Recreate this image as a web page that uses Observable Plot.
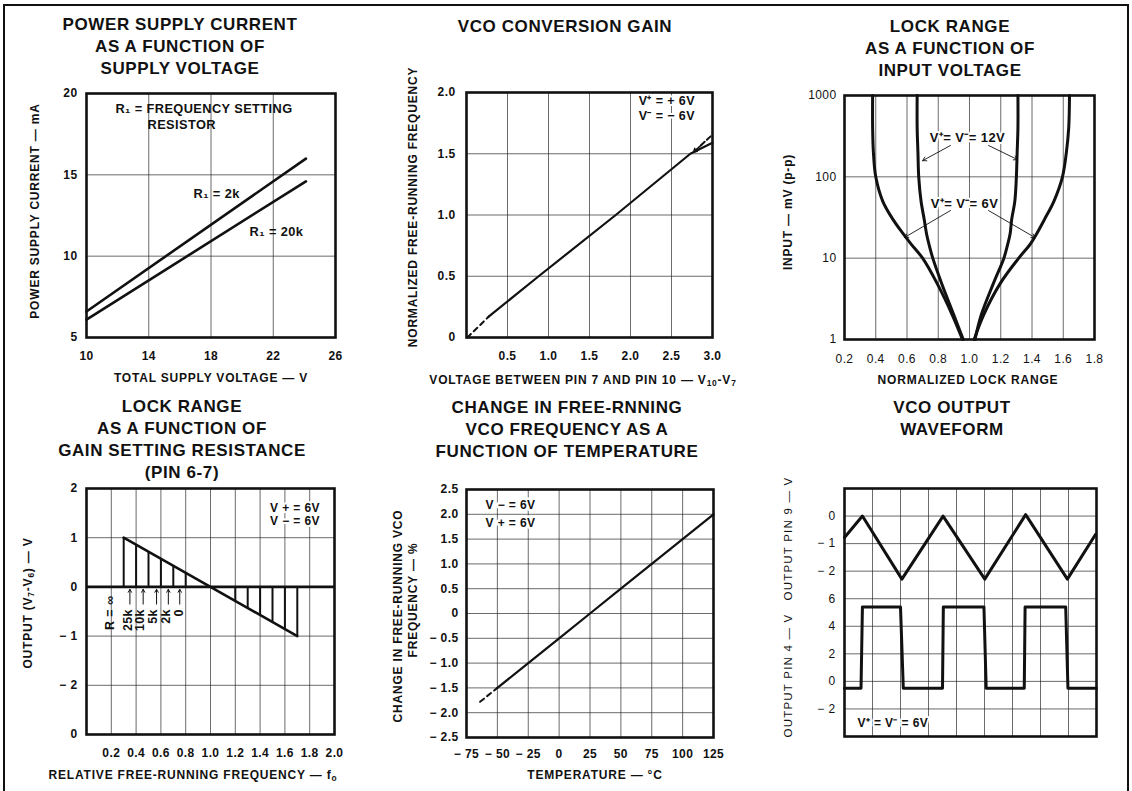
<!DOCTYPE html>
<html><head><meta charset="utf-8">
<script src="https://cdn.jsdelivr.net/npm/d3@7"></script>
<script src="https://cdn.jsdelivr.net/npm/@observablehq/plot@0.6"></script>
<style>
body{margin:0;background:#fff;}
#page{position:relative;width:1132px;height:791px;overflow:hidden;background:#fff;font-family:"Liberation Sans",Arial,sans-serif;color:#111;}
.border{position:absolute;left:3px;top:4px;width:1122px;height:800px;border:2px solid #111;border-bottom:none;}
.title{position:absolute;font-weight:bold;font-size:17px;letter-spacing:0.6px;line-height:22px;text-align:center;transform:translateX(-50%);white-space:nowrap;}
.xl,.yl{position:absolute;font-weight:bold;font-size:12px;letter-spacing:0.8px;white-space:nowrap;}
.xl{transform:translate(-50%,-50%);}
.yl{transform:translate(-50%,-50%) rotate(-90deg);}
.yl.light{font-weight:normal;font-size:11.5px;letter-spacing:1.2px;}
sub{font-size:70%;vertical-align:-2px;line-height:0;}
</style></head>
<body><div id="page"><div class="border"></div></div>
<script>
// ---------- DATA ----------
// Panel 1: power supply current vs supply voltage
const p1Voltage = [10, 24.1];
const p1Current2k = [6.6, 16.0];
const p1Current20k = [6.1, 14.6];
const p1XTicks = [10, 14, 18, 22, 26];
const p1YTicks = [5, 10, 15, 20];

// Panel 2: VCO conversion gain
const p2DashV = [0.01, 0.27];
const p2DashF = [0.0, 0.17];
const p2Volt = [0.27, 0.88, 1.82, 2.73, 3.0];
const p2Freq = [0.17, 0.5, 1.0, 1.5, 1.59];
const p2XTicks = [0.5, 1.0, 1.5, 2.0, 2.5, 3.0];
const p2YTicks = [0, 0.5, 1.0, 1.5, 2.0];

// Panel 3: lock range vs input voltage (input mV p-p ascending)
const p3Input = [1, 2, 5, 10, 15, 20, 30, 50, 100, 200, 400, 1000];
const p3SixLeft = [0.955, 0.89, 0.79, 0.70, 0.625, 0.575, 0.51, 0.445, 0.40, 0.385, 0.38, 0.38];
const p3SixRight = [1.03, 1.09, 1.20, 1.315, 1.39, 1.43, 1.48, 1.54, 1.595, 1.62, 1.635, 1.64];
const p3TwelveLeft = [0.96, 0.90, 0.82, 0.765, 0.74, 0.725, 0.71, 0.69, 0.675, 0.67, 0.665, 0.665];
const p3TwelveRight = [1.035, 1.075, 1.155, 1.22, 1.245, 1.26, 1.27, 1.29, 1.30, 1.305, 1.31, 1.31];
const p3XTicks = [0.2, 0.4, 0.6, 0.8, 1.0, 1.2, 1.4, 1.6, 1.8];
const p3YTicks = [1, 10, 100, 1000];

// Panel 4: lock range vs gain setting resistance
const p4LineF = [0.3, 1.7];
const p4LineV = [1.0, -1.0];
const p4HatchF = [0.3, 0.4, 0.5, 0.6, 0.7, 0.8, 1.2, 1.3, 1.4, 1.5, 1.6, 1.7];
const p4HatchV = [1.0, 0.86, 0.71, 0.57, 0.43, 0.29, -0.29, -0.43, -0.57, -0.71, -0.86, -1.0];
const p4RLabels = ["R = ∞", "25k", "10k", "5k", "2k", "0"];
const p4XTicks = [0.2, 0.4, 0.6, 0.8, 1.0, 1.2, 1.4, 1.6, 1.8, 2.0];
const p4YTicks = [2, 1, 0, -1, -2, -3];
const p4YTickLabels = ["2", "1", "0", "− 1", "− 2", "0"];

// Panel 5: change in free-running VCO frequency vs temperature
const p5DashT = [-64, -50];
const p5DashP = [-1.78, -1.5];
const p5Temp = [-50, -25, 0, 25, 50, 75, 100, 125];
const p5Pct = [-1.5, -1.0, -0.5, 0, 0.5, 1.0, 1.5, 2.0];
const p5XTicks = [-75, -50, -25, 0, 25, 50, 75, 100, 125];
const p5YTicks = [2.5, 2.0, 1.5, 1.0, 0.5, 0, -0.5, -1.0, -1.5, -2.0, -2.5];

// Panel 6: VCO output waveform (time in divisions, volts)
const p6TriT = [0, 0.64, 2.05, 3.52, 5.01, 6.47, 7.96, 8.97];
const p6TriV = [-0.78, 0, -2.29, 0, -2.29, 0.05, -2.29, -0.66];
const p6SqT = [0, 0.59, 0.64, 2.0, 2.1, 3.5, 3.53, 4.98, 5.06, 6.42, 6.45, 7.9, 7.98, 9];
const p6SqV = [-0.5, -0.5, 5.4, 5.4, -0.5, -0.5, 5.4, 5.4, -0.5, -0.5, 5.4, 5.4, -0.5, -0.5];
const p6YTickLabels = ["− 2", "0", "2", "4", "6", "− 2", "− 1", "0"];

// ---------- HELPERS ----------
const page = document.getElementById("page");
const GRID = {stroke: "#222", strokeOpacity: 0.75, strokeWidth: 0.9};
const zip = (a, b) => a.map((v, i) => ({x: v, y: b[i]}));

function panel({frame: [L, T, R, B], x, y, marks, weight = "bold", ml = 62, mr = 14, mt = 14, mb = 34}) {
  const chart = Plot.plot({
    width: R - L + ml + mr, height: B - T + mt + mb,
    marginLeft: ml, marginRight: mr, marginTop: mt, marginBottom: mb,
    x, y,
    style: {fontFamily: "Liberation Sans, Arial, sans-serif", fontSize: "12px", fontWeight: weight,
            color: "#111", background: "transparent", overflow: "visible", letterSpacing: "0.4px"},
    marks: [...marks, Plot.frame({stroke: "#111", strokeWidth: 2.6})]
  });
  chart.style.position = "absolute";
  chart.style.left = (L - ml) + "px";
  chart.style.top = (T - mt) + "px";
  page.appendChild(chart);
}
function html(cls, left, top, inner) {
  const d = document.createElement("div");
  d.className = cls; d.style.left = left + "px"; d.style.top = top + "px"; d.innerHTML = inner;
  page.appendChild(d);
}
const ax = (ticks, fmt, pad = 14) => Plot.axisX(ticks, {tickSize: 0, tickPadding: pad, label: null, tickFormat: fmt});
const ay = (ticks, fmt, pad = 9) => Plot.axisY(ticks, {tickSize: 0, tickPadding: pad, label: null, tickFormat: fmt});
const f1 = d => d.toFixed(1);
const NOTE = {textAnchor: "start", fontWeight: "bold", stroke: "white", strokeWidth: 4, fill: "#111"};

// ---------- PANEL 1 ----------
panel({
  frame: [86, 93, 335, 337],
  x: {domain: [10, 26]}, y: {domain: [5, 20]},
  marks: [
    Plot.gridX([14, 18, 22], GRID), Plot.gridY([10, 15], GRID),
    ax(p1XTicks, d => String(d)), ay(p1YTicks, d => String(d)),
    Plot.line(zip(p1Voltage, p1Current2k), {x: "x", y: "y", strokeWidth: 2.6}),
    Plot.line(zip(p1Voltage, p1Current20k), {x: "x", y: "y", strokeWidth: 2.6}),
    Plot.text(["R₁ = FREQUENCY SETTING"], {x: 11.86, y: 19.08, text: d => d, textAnchor: "start", fontWeight: "bold", fontSize: 12.8}),
    Plot.text(["RESISTOR"], {x: 13.92, y: 18.1, text: d => d, textAnchor: "start", fontWeight: "bold", fontSize: 12.8}),
    Plot.text(["R₁ = 2k"], {x: 16.88, y: 13.85, text: d => d, textAnchor: "start", fontWeight: "bold", fontSize: 12.8}),
    Plot.text(["R₁ = 20k"], {x: 20.48, y: 11.52, text: d => d, textAnchor: "start", fontWeight: "bold", fontSize: 12.8})
  ]
});
html("title", 180, 14, "POWER SUPPLY CURRENT<br>AS A FUNCTION OF<br>SUPPLY VOLTAGE");
html("yl", 35, 211, "POWER SUPPLY CURRENT — mA");
html("xl", 211, 378, "TOTAL SUPPLY VOLTAGE — V");

// ---------- PANEL 2 ----------
panel({
  frame: [466, 92, 712, 337],
  x: {domain: [0, 3]}, y: {domain: [0, 2]},
  marks: [
    Plot.gridX([0.5, 1.0, 1.5, 2.0, 2.5], GRID), Plot.gridY([0.5, 1.0, 1.5], GRID),
    ax(p2XTicks, f1), ay(p2YTicks, d => d === 0 ? "0" : f1(d), 11),
    Plot.line(zip(p2DashV, p2DashF), {x: "x", y: "y", strokeWidth: 2, strokeDasharray: "5,4"}),
    Plot.line(zip(p2Volt, p2Freq), {x: "x", y: "y", strokeWidth: 2.2}),
    Plot.line([{x: 2.86, y: 1.57}, {x: 2.99, y: 1.65}], {x: "x", y: "y", strokeWidth: 2, strokeDasharray: "5,3"}),
    Plot.arrow([0], {x1: 2.87, y1: 1.575, x2: 2.77, y2: 1.515, strokeWidth: 1.6, headLength: 8}),
    Plot.text(["V⁺ = + 6V", "V⁻ = − 6V"], {x: 2.1, y: (d, i) => [1.93, 1.81][i], text: d => d, ...NOTE, fontSize: 12.5})
  ]
});
html("title", 565, 16, "VCO CONVERSION GAIN");
html("yl", 413, 207, "NORMALIZED FREE-RUNNING FREQUENCY");
html("xl", 583, 380, "VOLTAGE BETWEEN PIN 7 AND PIN 10 — V<sub>10</sub>-V<sub>7</sub>");

// ---------- PANEL 3 ----------
panel({
  frame: [844, 95, 1094, 339],
  x: {domain: [0.2, 1.8]}, y: {type: "log", domain: [1, 1000]},
  weight: "normal",
  marks: [
    Plot.gridX([0.4, 0.6, 0.8, 1.0, 1.2, 1.4, 1.6], GRID), Plot.gridY([10, 100], GRID),
    ax(p3XTicks, f1, 15), ay(p3YTicks, d => String(d), 8),
    ...[p3SixLeft, p3SixRight, p3TwelveLeft, p3TwelveRight].map(arr =>
      Plot.line(p3Input.map((v, i) => ({x: arr[i], y: v})), {x: "x", y: "y", strokeWidth: 3, curve: "catmull-rom"})),
    Plot.arrow([0], {x1: 0.878, y1: 243, x2: 0.70, y2: 158, strokeWidth: 0.9, headLength: 7}),
    Plot.arrow([0], {x1: 1.122, y1: 243, x2: 1.307, y2: 163, strokeWidth: 0.9, headLength: 7}),
    Plot.arrow([0], {x1: 0.878, y1: 38.5, x2: 0.585, y2: 18, strokeWidth: 0.9, headLength: 7}),
    Plot.arrow([0], {x1: 1.122, y1: 38.5, x2: 1.42, y2: 17.9, strokeWidth: 0.9, headLength: 7}),
    Plot.text(["V⁺= V⁻= 12V"], {x: 0.987, y: 300, text: d => d, ...NOTE, textAnchor: "middle", fontSize: 13}),
    Plot.text(["V⁺= V⁻= 6V"], {x: 0.968, y: 47, text: d => d, ...NOTE, textAnchor: "middle", fontSize: 13})
  ]
});
html("title", 950, 16, "LOCK RANGE<br>AS A FUNCTION OF<br>INPUT VOLTAGE");
html("yl", 788, 212, "INPUT — mV (p-p)");
html("xl", 968, 380, "NORMALIZED LOCK RANGE");

// ---------- PANEL 4 ----------
const p4LabelX = [0.186, 0.336, 0.435, 0.54, 0.645, 0.745];
const p4ArrowX = [0.35, 0.457, 0.565, 0.66, 0.752];
panel({
  frame: [86, 488, 334, 734],
  x: {domain: [0, 2]}, y: {domain: [-3, 2]},
  marks: [
    Plot.gridX([0.2, 0.4, 0.6, 0.8, 1.0, 1.2, 1.4, 1.6, 1.8], GRID), Plot.gridY([1, -1, -2], GRID),
    ax(p4XTicks, f1), ay(p4YTicks, d => p4YTickLabels[p4YTicks.indexOf(d)]),
    Plot.ruleY([0], {strokeWidth: 2.6}),
    Plot.ruleX(zip(p4HatchF, p4HatchV), {x: "x", y1: 0, y2: "y", strokeWidth: 2}),
    Plot.line(zip(p4LineF, p4LineV), {x: "x", y: "y", strokeWidth: 2.6}),
    Plot.arrow(p4ArrowX, {x1: d => d, x2: d => d, y1: -0.35, y2: -0.05, strokeWidth: 1, headLength: 5}),
    Plot.text(p4RLabels, {x: (d, i) => p4LabelX[i], y: (d, i) => i === 0 ? -0.18 : -0.45, text: d => d, rotate: -90, textAnchor: "end", fontWeight: "bold", fontSize: 12.5}),
    Plot.text(["V + = 6V", "V − = 6V"], {x: 1.48, y: (d, i) => [1.61, 1.33][i], text: d => d, ...NOTE})
  ]
});
html("title", 182, 396, "LOCK RANGE<br>AS A FUNCTION OF<br>GAIN SETTING RESISTANCE<br>(PIN 6-7)");
html("yl", 28, 603, "OUTPUT (V<sub>7</sub>-V<sub>6</sub>) — V");
html("xl", 193, 775, "RELATIVE FREE-RUNNING FREQUENCY — f<sub>o</sub>");

// ---------- PANEL 5 ----------
const neg = (d, s) => d === 0 ? "0" : (d < 0 ? "− " : "") + s(Math.abs(d));
panel({
  frame: [466, 489, 713, 737],
  x: {domain: [-75, 125]}, y: {domain: [-2.5, 2.5]},
  marks: [
    Plot.gridX([-50, -25, 0, 25, 50, 75, 100], GRID), Plot.gridY([-2, -1.5, -1, -0.5, 0, 0.5, 1, 1.5, 2], GRID),
    ax(p5XTicks, d => neg(d, String), 12), ay(p5YTicks, d => neg(d, f1), 8),
    Plot.line(zip(p5DashT, p5DashP), {x: "x", y: "y", strokeWidth: 2, strokeDasharray: "5,4"}),
    Plot.line(zip(p5Temp, p5Pct), {x: "x", y: "y", strokeWidth: 2.2}),
    Plot.text(["V − = 6V", "V + = 6V"], {x: -59.6, y: (d, i) => [2.18, 1.83][i], text: d => d, ...NOTE, strokeWidth: 5})
  ]
});
html("title", 567, 397, "CHANGE IN FREE-RNNING<br>VCO FREQUENCY AS A<br>FUNCTION OF TEMPERATURE");
html("yl", 398, 616, "CHANGE IN FREE-RUNNING VCO");
html("yl", 413, 600, "FREQUENCY — %");
html("xl", 595, 775, "TEMPERATURE — °C");

// ---------- PANEL 6 ----------
panel({
  frame: [844, 488, 1096, 736],
  x: {domain: [0, 9], axis: null}, y: {domain: [0, 9]},
  weight: "normal",
  marks: [
    Plot.gridX([1, 2, 3, 4, 5, 6, 7, 8], GRID), Plot.gridY([1, 2, 3, 4, 5, 6, 7, 8], GRID),
    ay([1, 2, 3, 4, 5, 6, 7, 8], d => p6YTickLabels[d - 1], 9),
    Plot.line(p6TriT.map((t, i) => ({x: t, y: 8 + p6TriV[i]})), {x: "x", y: "y", strokeWidth: 3}),
    Plot.line(p6SqT.map((t, i) => ({x: t, y: 2 + p6SqV[i] / 2})), {x: "x", y: "y", strokeWidth: 3}),
    Plot.text(["V⁺ = V⁻ = 6V"], {x: 0.46, y: 0.47, text: d => d, ...NOTE})
  ]
});
html("title", 952, 397, "VCO OUTPUT<br>WAVEFORM");
html("yl light", 788, 607, "OUTPUT PIN 4 — V&nbsp;&nbsp;&nbsp;OUTPUT PIN 9 — V");
</script></body></html>
